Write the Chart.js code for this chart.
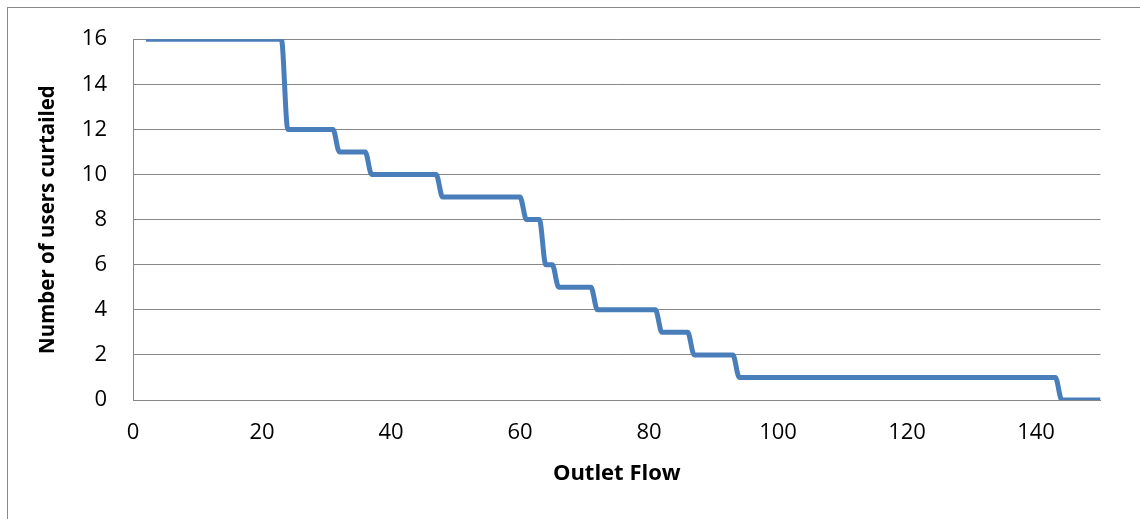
<!DOCTYPE html>
<html>
<head>
<meta charset="utf-8">
<script src="https://cdn.jsdelivr.net/npm/chart.js@4.4.1/dist/chart.umd.min.js"></script>
<style>
  html, body { margin: 0; padding: 0; background: #ffffff; overflow: hidden; }
  #wrap { position: relative; width: 1140px; height: 519px; overflow: hidden; }
  #frame { position: absolute; left: 7px; top: 7px; width: 2000px; height: 2000px; border: 1px solid #898989; box-sizing: border-box; }
  #c { position: absolute; left: 0; top: 0; }
</style>
</head>
<body>
<div id="wrap">
  <div id="frame"></div>
  <canvas id="c" width="1140" height="519"></canvas>
</div>
<script>
// Data
const outletFlow = [2, 23, 24, 31, 32, 36, 37, 47, 48, 60, 61, 63, 64, 65, 66, 71, 72, 81, 82, 86, 87, 93, 94, 143, 144, 150];
const usersCurtailed = [16, 16, 12, 12, 11, 11, 10, 10, 9, 9, 8, 8, 6, 6, 5, 5, 4, 4, 3, 3, 2, 2, 1, 1, 0, 0];
const xTickValues = [0, 20, 40, 60, 80, 100, 120, 140];
const yTickValues = [0, 2, 4, 6, 8, 10, 12, 14, 16];
const xTitle = 'Outlet Flow';
const yTitle = 'Number of users curtailed';

const points = outletFlow.map((x, i) => ({ x: x, y: usersCurtailed[i] }));
const gridGray = '#878787';
const FONT = '"Open Sans", "Liberation Sans", sans-serif';

new Chart(document.getElementById('c'), {
  type: 'line',
  data: {
    datasets: [{
      data: points,
      borderColor: '#4a7ebb',
      backgroundColor: '#4a7ebb',
      borderWidth: 5,
      pointRadius: 0,
      fill: false,
      cubicInterpolationMode: 'monotone',
      borderCapStyle: 'butt',
      borderJoinStyle: 'round'
    }]
  },
  options: {
    responsive: false,
    animation: false,
    devicePixelRatio: 1,
    layout: { padding: { left: 0, top: 37, right: 39.5, bottom: 0 } },
    plugins: { legend: { display: false }, tooltip: { enabled: false } },
    scales: {
      x: {
        type: 'linear',
        min: 0,
        max: 150,
        afterFit: (s) => { s.height = 119; },
        afterBuildTicks: (s) => { s.ticks = xTickValues.map(v => ({ value: v })); },
        grid: { display: false, drawTicks: false },
        border: { display: true, color: gridGray, width: 1 },
        ticks: { color: '#000000', padding: 20, font: { family: FONT, size: 22 }, maxRotation: 0, autoSkip: false },
        title: { display: true, text: xTitle, color: '#000000', font: { family: FONT, size: 22, weight: 'bold' }, padding: { top: 0, bottom: 32 } }
      },
      y: {
        type: 'linear',
        min: 0,
        max: 16,
        afterFit: (s) => { s.width = 133; },
        afterBuildTicks: (s) => { s.ticks = yTickValues.map(v => ({ value: v })); },
        grid: { display: true, color: gridGray, lineWidth: 1, drawTicks: false },
        border: { display: true, color: gridGray, width: 1 },
        ticks: { color: '#000000', padding: 26, font: { family: FONT, size: 22 }, autoSkip: false },
        title: { display: true, text: yTitle, color: '#000000', font: { family: FONT, size: 20.5, weight: 'bold' }, padding: { top: 36, bottom: 0 } }
      }
    }
  }
});
</script>
</body>
</html>
